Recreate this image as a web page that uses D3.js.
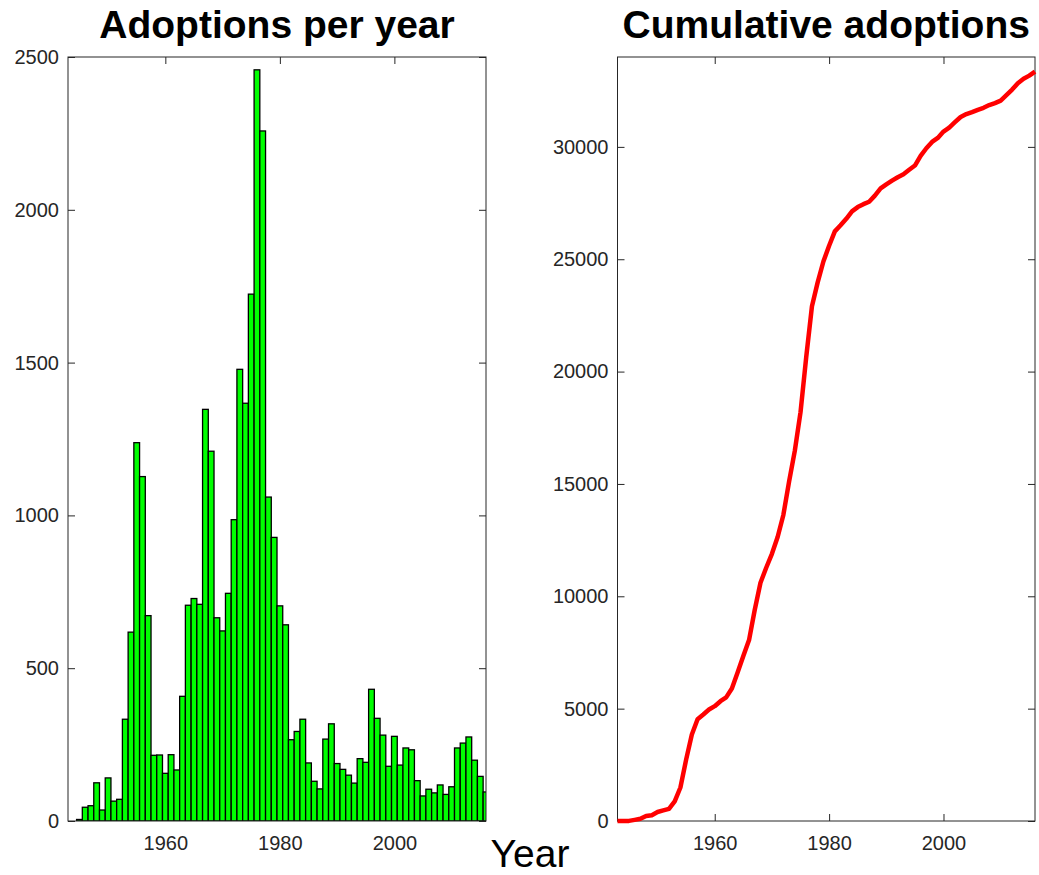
<!DOCTYPE html>
<html>
<head>
<meta charset="utf-8">
<script src="https://cdn.jsdelivr.net/npm/d3@7"></script>
<style>
  html, body { margin: 0; padding: 0; background: #fff; }
  svg { display: block; font-family: "Liberation Sans", Arial, Helvetica, sans-serif; }
</style>
</head>
<body>
<svg id="chart" width="1039" height="875"></svg>
<script>
// Adoptions per year (bars) and cumulative adoptions (line), two panels side by side.

const YEARS = [
  1943, 1944, 1945, 1946, 1947, 1948, 1949, 1950, 1951, 1952,
  1953, 1954, 1955, 1956, 1957, 1958, 1959, 1960, 1961, 1962,
  1963, 1964, 1965, 1966, 1967, 1968, 1969, 1970, 1971, 1972,
  1973, 1974, 1975, 1976, 1977, 1978, 1979, 1980, 1981, 1982,
  1983, 1984, 1985, 1986, 1987, 1988, 1989, 1990, 1991, 1992,
  1993, 1994, 1995, 1996, 1997, 1998, 1999, 2000, 2001, 2002,
  2003, 2004, 2005, 2006, 2007, 2008, 2009, 2010, 2011, 2012,
  2013, 2014, 2015, 2016
];

const PER_YEAR = [
  0, 0, 5, 45, 50, 125, 36, 141, 65, 71,
  333, 618, 1238, 1127, 672, 215, 216, 156, 217, 167,
  408, 706, 728, 709, 1347, 1210, 665, 622, 745, 986,
  1478, 1367, 1724, 2458, 2258, 1060, 928, 704, 642, 266,
  293, 333, 190, 130, 105, 268, 318, 188, 169, 150,
  124, 204, 192, 431, 336, 281, 179, 277, 183, 239,
  233, 132, 82, 104, 92, 118, 87, 112, 239, 255,
  275, 199, 146, 95
];

const CUMULATIVE = [
  0, 0, 5, 50, 100, 225, 260, 400, 470, 540,
  870, 1490, 2730, 3850, 4530, 4740, 4960, 5110, 5330, 5500,
  5900, 6610, 7340, 8050, 9400, 10600, 11270, 11890, 12640, 13620,
  15100, 16470, 18190, 20650, 22910, 23970, 24900, 25600, 26240, 26510,
  26800, 27130, 27320, 27450, 27560, 27830, 28150, 28330, 28500, 28650,
  28780, 28980, 29170, 29600, 29940, 30220, 30400, 30680, 30860, 31100,
  31330, 31460, 31550, 31650, 31740, 31860, 31950, 32060, 32300, 32550,
  32830, 33030, 33170, 33350
];

const X_TICKS = [1960, 1980, 2000];
const LEFT_Y_TICKS = [0, 500, 1000, 1500, 2000, 2500];
const RIGHT_Y_TICKS = [0, 5000, 10000, 15000, 20000, 25000, 30000];

const AXIS = '#262626';
const TICK = 7;

const svg = d3.select('#chart');
const Y_TOP = 57, Y_BOTTOM = 821;

function panel(left, right, yMax, yTicks, title, id) {
  const x = d3.scaleLinear().domain([1943, 2016]).range([left, right]);
  const y = d3.scaleLinear().domain([0, yMax]).range([Y_BOTTOM, Y_TOP]);
  const g = svg.append('g');

  g.append('clipPath').attr('id', id)
    .append('rect').attr('x', left).attr('y', Y_TOP)
    .attr('width', right - left).attr('height', Y_BOTTOM - Y_TOP);

  const style = sel => {
    sel.select('.domain').remove();
    sel.selectAll('line').attr('stroke', AXIS);
    sel.selectAll('text').attr('fill', AXIS).style('font-size', '20px')
      .style('font-family', '"Liberation Sans", Arial, sans-serif');
  };

  g.append('g').attr('transform', `translate(0,${Y_BOTTOM})`)
    .call(d3.axisBottom(x).tickValues(X_TICKS).tickFormat(d3.format('d'))
      .tickSizeInner(-TICK).tickSizeOuter(0).tickPadding(15))
    .call(style);
  g.append('g').attr('transform', `translate(0,${Y_TOP})`)
    .call(d3.axisTop(x).tickValues(X_TICKS).tickFormat('')
      .tickSizeInner(-TICK).tickSizeOuter(0))
    .call(style);
  g.append('g').attr('transform', `translate(${left},0)`)
    .call(d3.axisLeft(y).tickValues(yTicks).tickFormat(d3.format('d'))
      .tickSizeInner(-TICK).tickSizeOuter(0).tickPadding(9))
    .call(style);
  g.append('g').attr('transform', `translate(${right},0)`)
    .call(d3.axisRight(y).tickValues(yTicks).tickFormat('')
      .tickSizeInner(-TICK).tickSizeOuter(0))
    .call(style);

  svg.append('text')
    .attr('x', (left + right) / 2).attr('y', 38)
    .attr('text-anchor', 'middle')
    .attr('fill', '#000')
    .style('font-size', '39px').style('font-weight', 'bold')
    .text(title);

  return { x, y, g };
}

// left: bars
const L = panel(68, 486, 2500, LEFT_Y_TICKS, 'Adoptions per year', 'clipL');
L.g.append('g').attr('clip-path', 'url(#clipL)')
  .selectAll('rect').data(YEARS).join('rect')
  .attr('x', d => L.x(d - 0.5))
  .attr('width', d => L.x(d + 0.5) - L.x(d - 0.5))
  .attr('y', (d, i) => L.y(PER_YEAR[i]))
  .attr('height', (d, i) => L.y(0) - L.y(PER_YEAR[i]))
  .attr('fill', '#00ff00').attr('stroke', '#000').attr('stroke-width', 1.3);

L.g.append('rect').attr('x', 68).attr('y', Y_TOP).attr('width', 486 - 68).attr('height', Y_BOTTOM - Y_TOP)
  .attr('fill', 'none').attr('stroke', AXIS).attr('stroke-width', 1);

// right: cumulative line
const R = panel(617.5, 1035, 34000, RIGHT_Y_TICKS, 'Cumulative adoptions', 'clipR');
R.g.append('rect').attr('x', 617.5).attr('y', Y_TOP).attr('width', 1035 - 617.5).attr('height', Y_BOTTOM - Y_TOP)
  .attr('fill', 'none').attr('stroke', AXIS).attr('stroke-width', 1);

const line = d3.line().x((d, i) => R.x(YEARS[i])).y(d => R.y(d));
R.g.append('path').datum(CUMULATIVE)
  .attr('fill', 'none').attr('stroke', '#ff0000').attr('stroke-width', 4.5)
  .attr('stroke-linejoin', 'round')
  .attr('d', line);

svg.append('text')
  .attr('x', 530).attr('y', 867)
  .attr('text-anchor', 'middle').attr('fill', '#000')
  .style('font-size', '39px')
  .text('Year');
</script>
</body>
</html>
